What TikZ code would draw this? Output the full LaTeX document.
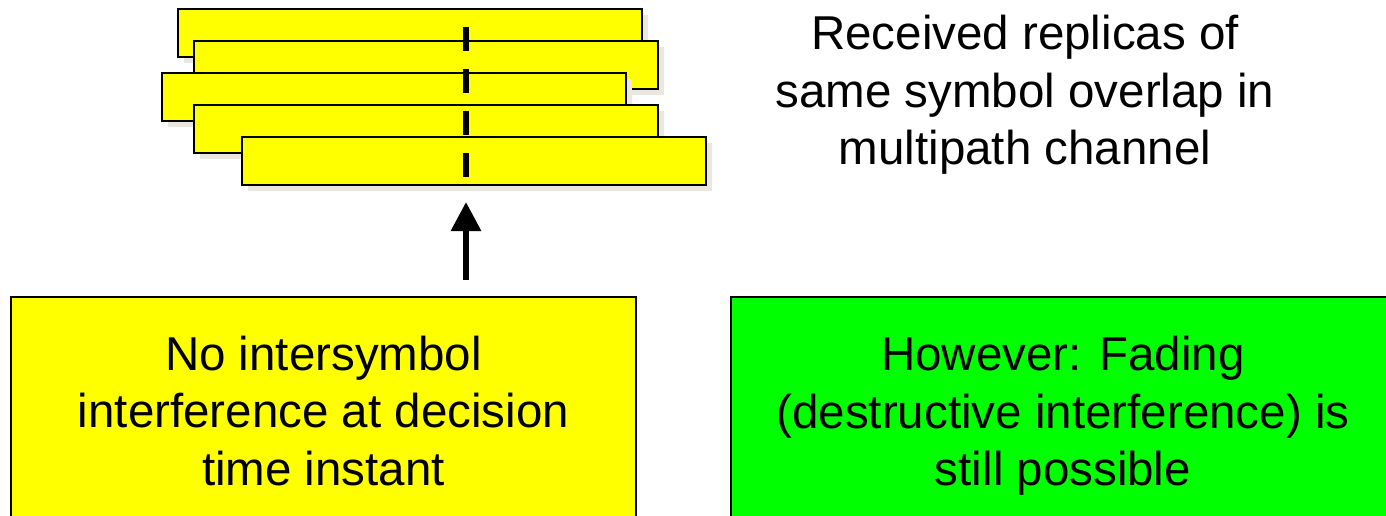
\documentclass[tikz,border=0pt]{standalone}
\usepackage{fontspec}
\setmainfont{Liberation Sans}
\usetikzlibrary{arrows.meta}

\definecolor{replicayellow}{RGB}{255,255,0}
\definecolor{fadegreen}{RGB}{0,255,0}
\definecolor{shadowgray}{RGB}{234,231,222}

\tikzset{
  replica/.style={
    draw=black, line width=2.4pt, fill=replicayellow,
    minimum width=464pt, minimum height=48pt,
    inner sep=0pt, outer sep=0pt, anchor=north west,
    preaction={fill=shadowgray, draw=none,
               transform canvas={xshift=6pt, yshift=-6pt}}},
  infobox/.style={
    draw=black, line width=2.2pt, inner sep=0pt, outer sep=0pt,
    anchor=north west, align=center, font=\bigtext},
  caption/.style={align=center, font=\bigtext, inner sep=0pt},
  decisionline/.style={line width=6pt, dash pattern=on 24pt off 18pt},
  uparrow/.style={line width=6pt,
    -{Triangle[length=29pt, width=29pt]},
    shorten <=17pt, shorten >=17pt}
}
\newcommand{\bigtext}{\fontsize{47.5}{57.5}\selectfont}

\begin{document}
\begin{tikzpicture}[x=1pt, y=-1pt]
  \useasboundingbox (0,0) rectangle (1386,516);
  \clip (0,0) rectangle (1386,516);

  % overlapping replicas of one symbol
  \node[replica] (bar1) at (178,9)   {};
  \node[replica] (bar2) at (194,41)  {};
  \node[replica] (bar3) at (162,73)  {};
  \node[replica] (bar4) at (194,105) {};
  \node[replica] (bar5) at (242,137) {};

  % decision time instant
  \coordinate (dtop) at (466,27);
  \coordinate (dbot) at (466,177);
  \draw[decisionline] (dtop) -- (dbot);

  \node[caption] (replicatext) at (1025,95)
    {Received replicas of\\same symbol overlap in\\multipath channel};

  % conclusions
  \node[infobox, fill=replicayellow, minimum width=625pt, minimum height=228pt]
    (nointer) at (11,297)
    {No intersymbol\\interference at decision\\time instant};
  \node[infobox, fill=fadegreen, minimum width=664pt, minimum height=238pt]
    (fading) at (731,297)
    {However: Fading\\(destructive interference) is\\still possible};

  \draw[uparrow] (nointer.north -| dtop) -- (bar5.south -| dtop);
\end{tikzpicture}
\end{document}
